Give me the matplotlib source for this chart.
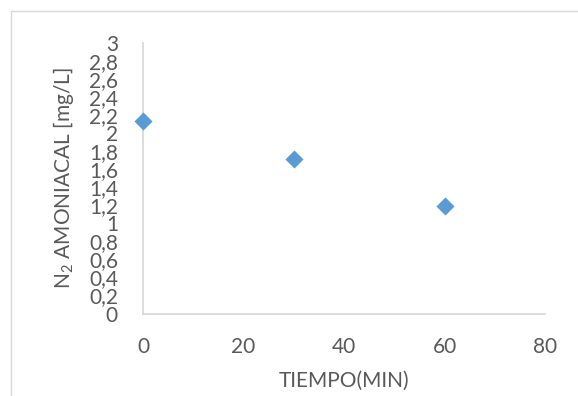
import matplotlib.pyplot as plt
from matplotlib.patches import Rectangle

# datos
tiempo = [0, 30, 60]
n2_amoniacal = [2.13, 1.71, 1.19]
x_ticks = [0, 20, 40, 60, 80]
y_ticks = [0, 0.2, 0.4, 0.6, 0.8, 1, 1.2, 1.4, 1.6, 1.8, 2, 2.2, 2.4, 2.6, 2.8, 3]

plt.rcParams['font.family'] = ['Lato', 'DejaVu Sans']
text_color = '#595959'
W, H = 578, 396

fig = plt.figure(figsize=(W / 100, H / 100), dpi=100)

# marco del area del grafico (recortado a la derecha y abajo)
fig.patches.append(Rectangle((11 / W, -0.05), 1.2, (H - 11) / H + 0.05,
                             transform=fig.transFigure, fill=False,
                             edgecolor='#D9D9D9', linewidth=1.0))

ax = fig.add_axes([143 / W, (H - 313.5) / H, (545 - 143) / W, (313.5 - 43) / H])
ax.scatter(tiempo, n2_amoniacal, marker='D', s=85, color='#5B9BD5', zorder=3,
           clip_on=False, linewidths=0)

ax.set_xlim(0, 80)
ax.set_ylim(0, 3)
ax.set_xticks(x_ticks)
ax.set_yticks(y_ticks)
ax.set_xticklabels([str(v) for v in x_ticks])
ax.set_yticklabels([('%g' % v).replace('.', ',') for v in y_ticks])

for side in ['top', 'right']:
    ax.spines[side].set_visible(False)
for side in ['left', 'bottom']:
    ax.spines[side].set_color('#D9D9D9')
    ax.spines[side].set_linewidth(1.3)

ax.tick_params(axis='both', length=0, labelsize=15, labelcolor=text_color)
ax.tick_params(axis='y', pad=18)
ax.tick_params(axis='x', pad=17)

ax.set_xlabel('TIEMPO(MIN)', fontsize=15, color=text_color, labelpad=10)
ax.set_ylabel(r'N$_{\mathregular{2}}$ AMONIACAL [mg/L]', fontsize=15, color=text_color, labelpad=9)

fig.savefig('out.png', dpi=100)
